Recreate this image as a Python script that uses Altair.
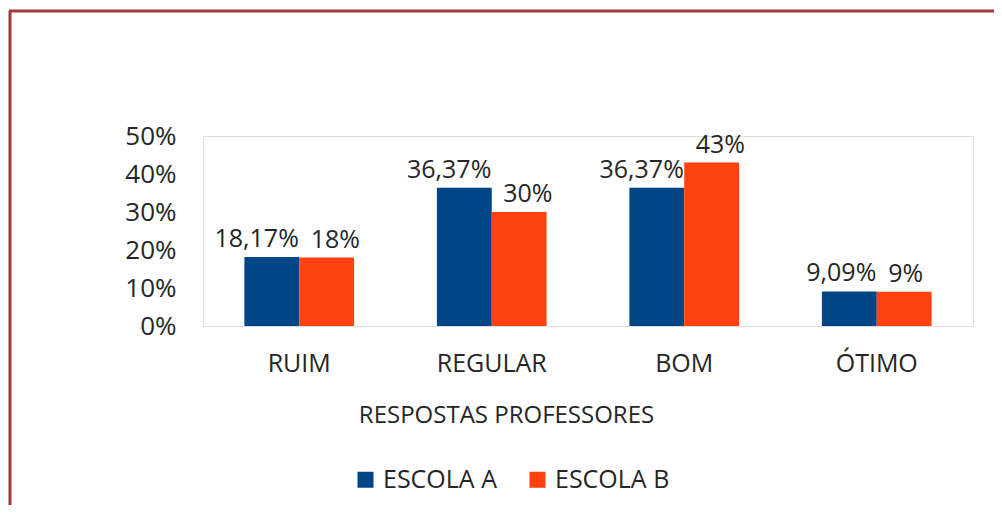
import altair as alt
import pandas as pd

categories = ["RUIM", "REGULAR", "BOM", "ÓTIMO"]
series = ["ESCOLA A", "ESCOLA B"]
escola_a = [0.1817, 0.3637, 0.3637, 0.0909]
escola_b = [0.18, 0.30, 0.43, 0.09]
labels_a = ["18,17%", "36,37%", "36,37%", "9,09%"]
labels_b = ["18%", "30%", "43%", "9%"]
colors = ["#004586", "#ff420e"]
y_ticks = [0, 0.1, 0.2, 0.3, 0.4, 0.5]

rows = []
for c, v, l in zip(categories, escola_a, labels_a):
    rows.append({"cat": c, "serie": series[0], "valor": v, "rotulo": l})
for c, v, l in zip(categories, escola_b, labels_b):
    rows.append({"cat": c, "serie": series[1], "valor": v, "rotulo": l})
df = pd.DataFrame(rows)

FONT = "Open Sans"
TXT = "#262626"

x = alt.X(
    "cat:N",
    sort=categories,
    scale=alt.Scale(paddingInner=0.43, paddingOuter=0.215),
    axis=alt.Axis(
        title="RESPOSTAS PROFESSORES",
        labelAngle=0,
        labelFontSize=25,
        labelPadding=25,
        labelColor=TXT,
        labelFont=FONT,
        ticks=False,
        domain=False,
        titleFontSize=24,
        titleFontWeight="normal",
        titleFont=FONT,
        titleColor=TXT,
        titleX=303,
        titleY=89,
        titleBaseline="middle",
    ),
)
y = alt.Y(
    "valor:Q",
    scale=alt.Scale(domain=[0, 0.5], nice=False),
    axis=alt.Axis(
        title=None,
        values=y_ticks,
        format=".0%",
        labelFontSize=26,
        labelPadding=27,
        labelColor=TXT,
        labelFont=FONT,
        ticks=False,
        domain=False,
        grid=False,
    ),
)
xoff = alt.XOffset("serie:N", sort=series, scale=alt.Scale(paddingInner=0, paddingOuter=0))

bars = alt.Chart(df).mark_bar().encode(
    x=x,
    y=y,
    xOffset=xoff,
    color=alt.Color(
        "serie:N",
        sort=series,
        scale=alt.Scale(domain=series, range=colors),
        legend=alt.Legend(
            title=None,
            orient="none",
            legendX=150,
            legendY=331,
            direction="horizontal",
            symbolType="square",
            symbolSize=256,
            symbolStrokeWidth=0,
            labelFontSize=25,
            labelFont=FONT,
            labelColor=TXT,
            labelOffset=5,
            columnPadding=28,
        ),
    ),
)

texts_a = alt.Chart(df).transform_filter(
    alt.datum.serie == series[0]
).mark_text(
    baseline="bottom", align="right", dx=27, dy=-5, fontSize=25, font=FONT, color=TXT
).encode(x=x, y=y, xOffset=xoff, text="rotulo:N")

texts_b = alt.Chart(df).transform_filter(
    alt.datum.serie == series[1]
).mark_text(
    baseline="bottom", align="left", dx=-16, dy=-5, fontSize=25, font=FONT, color=TXT
).encode(x=x, y=y, xOffset=xoff, text="rotulo:N")

frame_df = pd.DataFrame({"k": [0]})
frame_left = alt.Chart(frame_df).mark_rule(color="#a0393b", strokeWidth=3).encode(
    x=alt.value(-193), y=alt.value(-125), y2=alt.value(600)
)
frame_top = alt.Chart(frame_df).mark_rule(color="#a0393b", strokeWidth=3).encode(
    x=alt.value(-194), x2=alt.value(900), y=alt.value(-125)
)

chart = (
    alt.layer(bars, texts_a, texts_b, frame_left, frame_top)
    .properties(
        width=770,
        height=190,
        autosize=alt.AutoSizeParams(type="none"),
        padding={"left": 195, "top": 128, "right": 21, "bottom": 179},
    )
    .configure_view(stroke="#bfbfbf", strokeWidth=1)
    .configure(background="white")
)

chart.save("out.html", embed_options={"renderer": "svg", "actions": False})
